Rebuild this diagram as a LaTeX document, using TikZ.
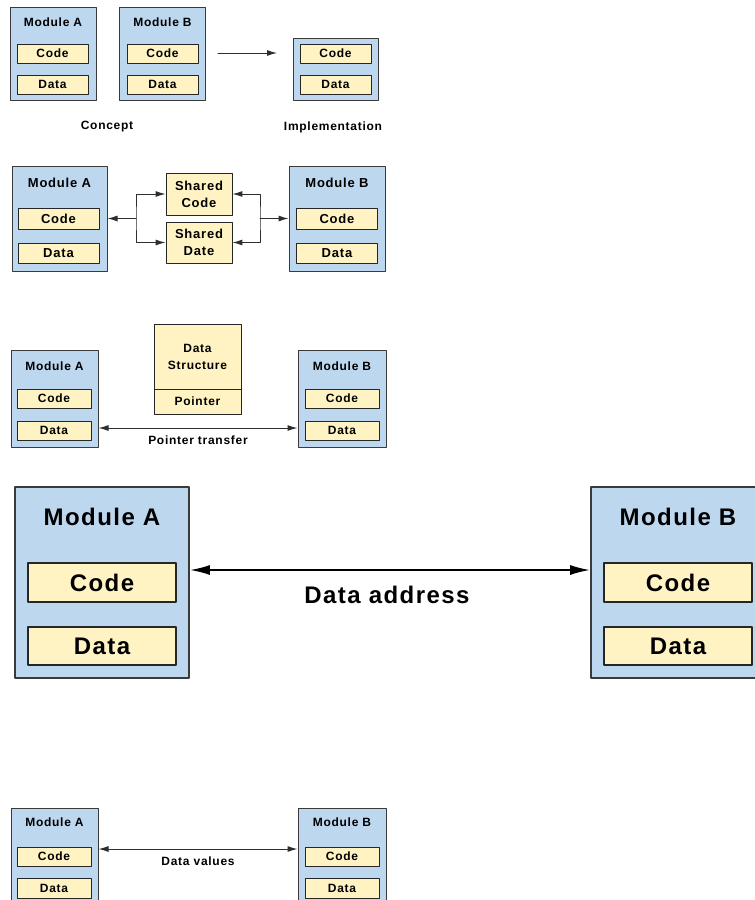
\documentclass[tikz,border=0pt]{standalone}
\usepackage{fontspec}
\setmainfont{Liberation Sans}[LetterSpace=6]
\usetikzlibrary{arrows.meta,positioning}
\definecolor{modBlue}{HTML}{BDD7EE}
\definecolor{partYellow}{HTML}{FFF3C4}
\definecolor{modLine}{HTML}{3A3A3A}
\definecolor{partLine}{HTML}{262626}
\definecolor{linkInk}{HTML}{2E2E2E}
\newcommand\lblS{\bfseries\fontsize{12}{17}\selectfont}
\newcommand\lblM{\bfseries\fontsize{13}{17}\selectfont}
\newcommand\lblL{\bfseries\fontsize{24}{28}\selectfont}
\begin{document}
\begin{tikzpicture}[x=1pt,y=-1pt,>=Latex,line cap=round,line join=round]
\path[use as bounding box,fill=white] (0,0) rectangle (755,900);
\clip (0,0) rectangle (755,900);
\tikzset{module/.style={draw=modLine,fill=modBlue,line width=1pt,inner sep=0pt},part/.style={draw=partLine,fill=partYellow,line width=0.9pt,inner sep=0pt,align=center,font=\lblS},modtitle/.style={font=\lblS},caption/.style={font=\lblS},link/.style={draw=linkInk,line width=1pt},smallhead/.tip={Latex[length=10pt,width=6pt]},bighead/.tip={Latex[length=20pt,width=10pt]}}
% concept / implementation
\node[module,minimum width=86pt,minimum height=93pt] (mAone) at (53,53.5) {};
\node[modtitle] (tAone) at ([yshift=-16pt]mAone.north) {Module A};
\node[part,minimum width=71pt,minimum height=19pt] (cAone) at (52.5,53.5) {Code};
\node[part,minimum width=71pt,minimum height=19pt] (dAone) at (52.5,84.5) {Data};
\node[module,minimum width=86pt,minimum height=93pt] (mBone) at (162.5,53.5) {};
\node[modtitle] (tBone) at ([yshift=-16pt]mBone.north) {Module B};
\node[part,minimum width=71pt,minimum height=19pt] (cBone) at (162.5,53.5) {Code};
\node[part,minimum width=71pt,minimum height=19pt] (dBone) at (162.5,84.5) {Data};
\node[module,minimum width=85pt,minimum height=62pt] (impl) at (335.5,69) {};
\node[part,minimum width=71pt,minimum height=19pt] (cImpl) at (335.5,53.5) {Code};
\node[part,minimum width=71pt,minimum height=19pt] (dImpl) at (335.5,84.5) {Data};
\coordinate (goS) at (218,53); \coordinate (goE) at (277,53);
\draw[link,-smallhead] (goS) -- (goE);
\node[caption] (capConcept) at (107,127) {Concept};
\node[caption] (capImpl) at (333,127) {Implementation};
% shared code and data
\node[module,minimum width=95pt,minimum height=105pt] (mAtwo) at (59.5,218.5) {};
\node[modtitle,font=\lblM] (tAtwo) at ([yshift=-17pt]mAtwo.north) {Module A};
\node[part,font=\lblM,minimum width=81pt,minimum height=21pt] (cAtwo) at (58.5,218.5) {Code};
\node[part,font=\lblM,minimum width=81pt,minimum height=20pt] (dAtwo) at (58.5,253) {Data};
\node[part,font=\lblM,minimum width=66pt,minimum height=42pt] (shCode) at (199,194) {Shared\\Code};
\node[part,font=\lblM,minimum width=66pt,minimum height=41pt] (shDate) at (199,242.5) {Shared\\Date};
\node[module,minimum width=96pt,minimum height=105pt] (mBtwo) at (337,218.5) {};
\node[modtitle,font=\lblM] (tBtwo) at ([yshift=-17pt]mBtwo.north) {Module B};
\node[part,font=\lblM,minimum width=81pt,minimum height=21pt] (cBtwo) at (337,218.5) {Code};
\node[part,font=\lblM,minimum width=81pt,minimum height=20pt] (dBtwo) at (337,253) {Data};
\coordinate (jl) at (136,218.5); \coordinate (jr) at (260,218.5);
\draw[link,smallhead-smallhead] (shCode.west) -| (jl) |- (shDate.west);
\draw[link,-smallhead] (jl) -- (mAtwo.east);
\draw[link,smallhead-smallhead] (shCode.east) -| (jr) |- (shDate.east);
\draw[link,-smallhead] (jr) -- (mBtwo.west);
% pointer transfer
\node[module,minimum width=87pt,minimum height=97pt] (mAthree) at (54.5,398.5) {};
\node[modtitle] (tAthree) at ([yshift=-17pt]mAthree.north) {Module A};
\node[part,minimum width=74pt,minimum height=19pt] (cAthree) at (54,398.5) {Code};
\node[part,minimum width=74pt,minimum height=19pt] (dAthree) at (54,430.5) {Data};
\node[part,minimum width=87pt,minimum height=65pt] (dsTop) at (197.5,356.5) {Data\\Structure};
\node[part,minimum width=87pt,minimum height=25pt] (dsPtr) at (197.5,401.5) {Pointer};
\node[module,minimum width=88pt,minimum height=97pt] (mBthree) at (342,398.5) {};
\node[modtitle] (tBthree) at ([yshift=-17pt]mBthree.north) {Module B};
\node[part,minimum width=74pt,minimum height=19pt] (cBthree) at (342,398.5) {Code};
\node[part,minimum width=74pt,minimum height=19pt] (dBthree) at (342,430.5) {Data};
\draw[link,smallhead-smallhead] ([yshift=-29.5pt]mAthree.east) -- ([yshift=-29.5pt]mBthree.west);
\node[caption] (capPtr) at (198,440) {Pointer transfer};
% data address
\node[module,line width=1.6pt,minimum width=174pt,minimum height=191pt] (mAfour) at (102,582.5) {};
\node[modtitle,font=\lblL] (tAfour) at ([yshift=-31pt]mAfour.north) {Module A};
\node[part,font=\lblL,line width=1.4pt,minimum width=148pt,minimum height=39pt] (cAfour) at (102,582.5) {Code};
\node[part,font=\lblL,line width=1.4pt,minimum width=148pt,minimum height=38pt] (dAfour) at (102,646) {Data};
\node[module,line width=1.6pt,minimum width=174pt,minimum height=191pt] (mBfour) at (678,582.5) {};
\node[modtitle,font=\lblL] (tBfour) at ([yshift=-31pt]mBfour.north) {Module B};
\node[part,font=\lblL,line width=1.4pt,minimum width=148pt,minimum height=39pt] (cBfour) at (678,582.5) {Code};
\node[part,font=\lblL,line width=1.4pt,minimum width=148pt,minimum height=38pt] (dBfour) at (678,646) {Data};
\draw[link,draw=black,line width=2pt,bighead-bighead] ([yshift=12.5pt]mAfour.east) -- ([yshift=12.5pt]mBfour.west);
\node[caption,font=\lblL] (capAddr) at (387,595) {Data address};
% data values
\node[module,minimum width=87pt,minimum height=97pt] (mAfive) at (54.5,856.5) {};
\node[modtitle] (tAfive) at ([yshift=-15pt]mAfive.north) {Module A};
\node[part,minimum width=74pt,minimum height=19pt] (cAfive) at (54,856.5) {Code};
\node[part,minimum width=74pt,minimum height=20pt] (dAfive) at (54,888) {Data};
\node[module,minimum width=88pt,minimum height=97pt] (mBfive) at (342,856.5) {};
\node[modtitle] (tBfive) at ([yshift=-15pt]mBfive.north) {Module B};
\node[part,minimum width=74pt,minimum height=19pt] (cBfive) at (342,856.5) {Code};
\node[part,minimum width=74pt,minimum height=20pt] (dBfive) at (342,888) {Data};
\draw[link,smallhead-smallhead] ([yshift=7.5pt]mAfive.east) -- ([yshift=7.5pt]mBfive.west);
\node[caption] (capVal) at (198,861) {Data values};
\end{tikzpicture}
\end{document}
